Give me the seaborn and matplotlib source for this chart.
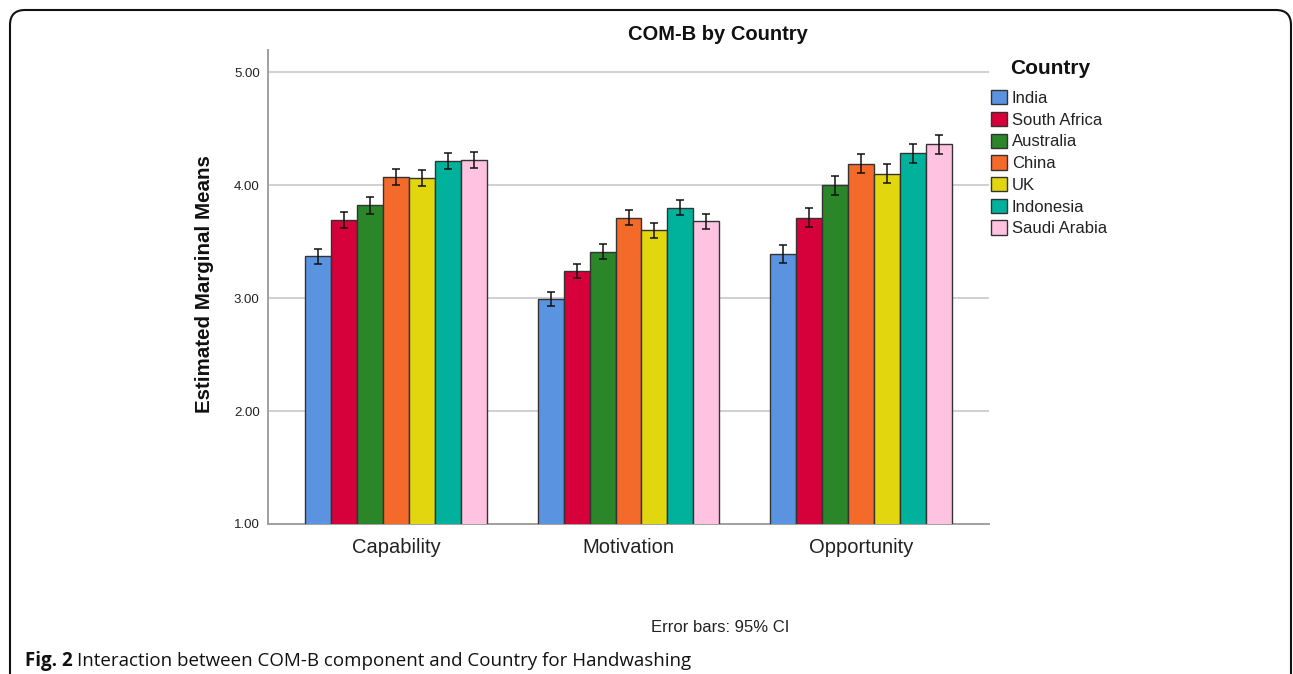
import numpy as np
import pandas as pd
import matplotlib
matplotlib.use("Agg")
import matplotlib.pyplot as plt
import matplotlib.patches as mpatches
from matplotlib.text import Annotation
import seaborn as sns

components = ["Capability", "Motivation", "Opportunity"]
countries = ["India", "South Africa", "Australia", "China", "UK", "Indonesia", "Saudi Arabia"]
colors = ["#5A93E0", "#D6003A", "#2A8629", "#F46A2B", "#E2D70F", "#00B29C", "#FFC2E1"]

capability_means = [3.37, 3.69, 3.82, 4.07, 4.06, 4.21, 4.22]
motivation_means = [2.99, 3.24, 3.41, 3.71, 3.60, 3.80, 3.68]
opportunity_means = [3.39, 3.71, 4.00, 4.19, 4.10, 4.28, 4.36]

capability_err = [0.068, 0.071, 0.074, 0.071, 0.072, 0.071, 0.069]
motivation_err = [0.064, 0.063, 0.066, 0.066, 0.066, 0.069, 0.066]
opportunity_err = [0.081, 0.085, 0.084, 0.084, 0.084, 0.082, 0.081]

yticks = [1.0, 2.0, 3.0, 4.0, 5.0]
ytick_labels = ["1.00", "2.00", "3.00", "4.00", "5.00"]

means = {"Capability": capability_means, "Motivation": motivation_means, "Opportunity": opportunity_means}
errs = {"Capability": capability_err, "Motivation": motivation_err, "Opportunity": opportunity_err}

rows = []
for comp in components:
    for c, m, e in zip(countries, means[comp], errs[comp]):
        rows.append({"Component": comp, "Country": c, "Mean": m, "Err": e})
df = pd.DataFrame(rows)

sns.set_theme(style="white")
plt.rcParams["font.family"] = ["Liberation Sans", "DejaVu Sans"]

W, H = 1293, 674
fig = plt.figure(figsize=(W / 100, H / 100), dpi=100)
ax = fig.add_axes([268 / W, 1 - 524 / H, (989 - 268) / W, (524 - 50) / H])

sns.barplot(data=df, x="Component", y="Mean", hue="Country", order=components,
            hue_order=countries, palette=colors, saturation=1, width=0.78,
            errorbar=None, edgecolor="#333333", linewidth=1.0, ax=ax,
            legend=False, zorder=3)

bar_containers = list(ax.containers)[:len(countries)]
for country, cont in zip(countries, bar_containers):
    sub = df[df["Country"] == country].set_index("Component").loc[components]
    xs = [b.get_x() + b.get_width() / 2 for b in cont]
    ax.errorbar(xs, sub["Mean"].values, yerr=sub["Err"].values, fmt="none",
                ecolor="#111111", elinewidth=1.1, capsize=3, capthick=1.1, zorder=4)

ax.set_ylim(1.0, 5.195)
ax.set_xlim(-0.55, 2.55)
ax.set_yticks(yticks)
ax.set_yticklabels(ytick_labels)
ax.yaxis.grid(True, color="#C8C8C8", linewidth=1.2, zorder=0)
ax.set_axisbelow(True)
ax.set_xlabel("")
ax.set_ylabel("")
for s in ["top", "right"]:
    ax.spines[s].set_visible(False)
for s in ["left", "bottom"]:
    ax.spines[s].set_color("#A0A0A0")
    ax.spines[s].set_linewidth(1.4)
ax.tick_params(axis="y", length=0, pad=6, labelsize=9.5, labelcolor="#222222")
ax.tick_params(axis="x", length=0, pad=10, labelsize=14.5, labelcolor="#222222")

fig.text(718 / W, 1 - 35 / H, "COM-B by Country", ha="center", va="center",
         fontsize=14.5, fontweight="bold", color="#111111")
fig.text(205 / W, 1 - 284 / H, "Estimated Marginal Means", rotation=90,
         ha="center", va="center", fontsize=14.8, fontweight="bold", color="#111111")

fig.text(1010 / W, 1 - 69 / H, "Country", ha="left", va="center",
         fontsize=15, fontweight="bold", color="#111111")
handles = [mpatches.Patch(facecolor=c, edgecolor="#333333", linewidth=1.0, label=n)
           for c, n in zip(colors, countries)]
fig.legend(handles=handles, loc="upper left", bbox_to_anchor=(991 / W, 1 - 90 / H),
           frameon=False, fontsize=12, handlelength=0.95, handleheight=0.95,
           handletextpad=0.3, labelspacing=0.35, borderpad=0, borderaxespad=0,
           labelcolor="#222222")

fig.text(720 / W, 1 - 627 / H, "Error bars: 95% CI", ha="center", va="center",
         fontsize=12, color="#222222")

t1 = fig.text(25 / W, 1 - 661 / H, "Fig. 2", ha="left", va="center",
              fontsize=13.5, fontweight="bold", color="#111111", family="Open Sans")
a = Annotation("Interaction between COM-B component and Country for Handwashing",
               xy=(1, 0.5), xycoords=t1, xytext=(3, 0), textcoords="offset points",
               ha="left", va="center", fontsize=13.5, color="#111111", family="Open Sans")
fig.add_artist(a)

frame = mpatches.FancyBboxPatch((0.10, -0.5), 12.81, 7.14,
                                boxstyle="round,pad=0,rounding_size=0.15",
                                transform=fig.dpi_scale_trans, fill=False,
                                edgecolor="#111111", linewidth=1.5)
fig.add_artist(frame)

fig.savefig("out.png", dpi=100)
